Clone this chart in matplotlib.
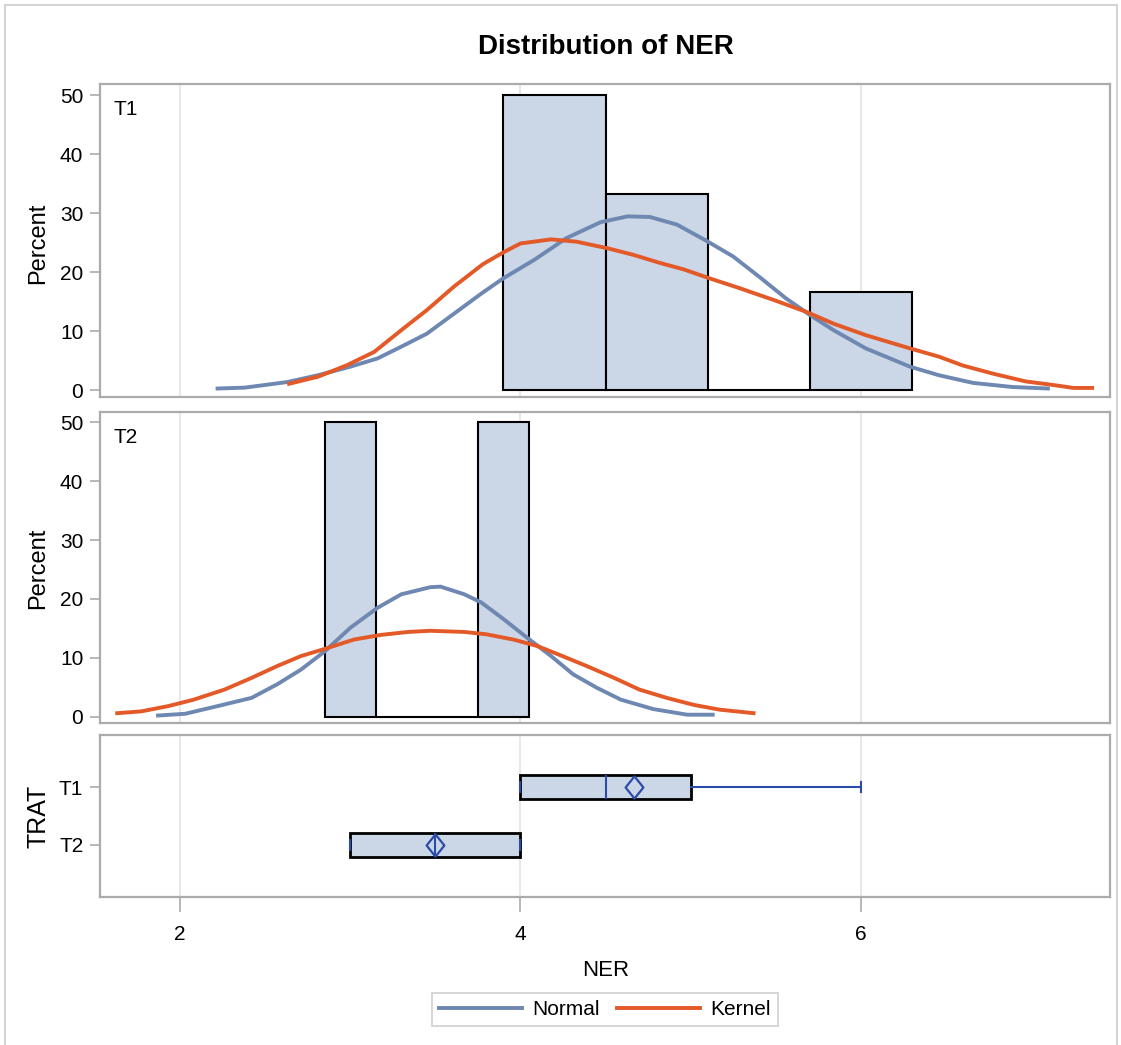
import matplotlib
matplotlib.use('Agg')
import matplotlib.pyplot as plt
from matplotlib.lines import Line2D
from matplotlib.path import Path
from matplotlib.patches import Rectangle

narrow = ['Liberation Sans Narrow', 'Liberation Sans', 'DejaVu Sans']
regular = ['Liberation Sans', 'DejaVu Sans']
plt.rcParams['font.family'] = narrow

# histogram bins (percent)
t1_centers = [4.2, 4.8, 5.4, 6.0]
t1_pct = [50.0, 33.33, 0.0, 16.67]
t1_width = 0.6
t2_centers = [3.0, 3.3, 3.6, 3.9]
t2_pct = [50.0, 0.0, 0.0, 50.0]
t2_width = 0.3

# fitted curves, points
t1_norm_x = [2.22, 2.38, 2.63, 2.81, 3.00, 3.16, 3.30, 3.45, 3.61, 3.77, 3.90, 4.08, 4.27,
             4.47, 4.63, 4.76, 4.92, 5.09, 5.25, 5.41, 5.56, 5.70, 5.84, 6.03, 6.29, 6.46,
             6.66, 6.89, 7.10]
t1_norm_y = [0.3, 0.45, 1.4, 2.55, 4.0, 5.4, 7.4, 9.6, 13.0, 16.4, 19.0, 22.1, 25.8,
             28.5, 29.5, 29.4, 28.1, 25.4, 22.7, 19.1, 15.6, 12.8, 10.2, 7.1, 4.0, 2.55,
             1.25, 0.56, 0.3]
t1_kern_x = [2.64, 2.81, 2.98, 3.14, 3.30, 3.45, 3.61, 3.78, 3.90, 4.00, 4.18, 4.33, 4.51,
             4.66, 4.82, 4.96, 5.11, 5.29, 5.49, 5.68, 5.84, 6.03, 6.29, 6.46, 6.60, 6.78,
             6.97, 7.13, 7.25, 7.36]
t1_kern_y = [1.1, 2.3, 4.25, 6.5, 10.2, 13.6, 17.6, 21.4, 23.4, 24.9, 25.6, 25.2, 24.1,
             23.0, 21.6, 20.5, 19.0, 17.3, 15.3, 13.3, 11.3, 9.35, 7.1, 5.7, 4.2, 2.8,
             1.5, 0.9, 0.4, 0.4]
t2_norm_x = [1.87, 2.03, 2.22, 2.42, 2.57, 2.71, 2.85, 3.00, 3.16, 3.30, 3.47, 3.53, 3.67,
             3.77, 3.90, 4.04, 4.18, 4.31, 4.45, 4.59, 4.78, 4.98, 5.13]
t2_norm_y = [0.2, 0.5, 1.8, 3.2, 5.5, 8.0, 11.1, 15.1, 18.5, 20.8, 22.0, 22.1, 20.8,
             19.4, 16.6, 13.4, 10.3, 7.2, 4.9, 2.9, 1.3, 0.34, 0.34]
t2_kern_x = [1.63, 1.77, 1.93, 2.08, 2.26, 2.42, 2.57, 2.71, 2.87, 3.02, 3.18, 3.34, 3.47,
             3.67, 3.80, 3.96, 4.10, 4.23, 4.39, 4.55, 4.70, 4.86, 5.02, 5.17, 5.37]
t2_kern_y = [0.6, 0.9, 1.8, 2.9, 4.6, 6.6, 8.6, 10.3, 11.7, 13.1, 13.9, 14.4, 14.6,
             14.4, 14.0, 13.1, 12.0, 10.5, 8.6, 6.6, 4.6, 3.2, 2.0, 1.2, 0.6]

# box plot summary
groups = ['T1', 'T2']
q1 = [4.0, 3.0]
med = [4.5, 3.5]
q3 = [5.0, 4.0]
lo = [4.0, 3.0]
hi = [6.0, 4.0]
means = [4.667, 3.5]

bar_fill = '#cbd6e6'
normal_col = '#6e88b2'
kernel_col = '#e35a28'
box_blue = '#2a4ca8'
frame_col = '#ababab'
grid_col = '#e4e4e4'

fig = plt.figure(figsize=(11.21, 10.45), dpi=100)
L, W = 100 / 1121, 1010 / 1121
ax1 = fig.add_axes([L, 1 - 397 / 1045, W, 313 / 1045])
ax2 = fig.add_axes([L, 1 - 723 / 1045, W, 311 / 1045])
ax3 = fig.add_axes([L, 1 - 897 / 1045, W, 162 / 1045])

panels = [
    (ax1, 'T1', t1_centers, t1_pct, t1_width, t1_norm_x, t1_norm_y, t1_kern_x, t1_kern_y, (-1.14, 51.95)),
    (ax2, 'T2', t2_centers, t2_pct, t2_width, t2_norm_x, t2_norm_y, t2_kern_x, t2_kern_y, (-1.07, 51.77)),
]
for ax, lab, cx, pc, w, nx, ny, kx, ky, yl in panels:
    ax.bar(cx, pc, width=w, color=bar_fill, edgecolor='black', linewidth=1.5, zorder=2)
    ax.plot(nx, ny, color=normal_col, lw=2.8, zorder=3, solid_joinstyle='round')
    ax.plot(kx, ky, color=kernel_col, lw=2.8, zorder=3, solid_joinstyle='round')
    ax.set_ylim(*yl)
    ax.set_yticks([0, 10, 20, 30, 40, 50])
    ax.text(0.013, 0.949, lab, transform=ax.transAxes, ha='left', va='top', fontsize=15)
    ax.tick_params(axis='x', length=0, labelbottom=False)

for ax in (ax1, ax2, ax3):
    ax.set_xlim(1.529, 7.465)
    ax.set_xticks([2, 4, 6])
    ax.grid(axis='x', color=grid_col, lw=1.2)
    ax.set_axisbelow(True)
    for s in ax.spines.values():
        s.set_color(frame_col)
        s.set_linewidth(1.6)
    ax.tick_params(axis='y', length=7, width=1.2, color=frame_col, labelsize=15, pad=5)

# box plot panel
diamond = Path([(0, 1), (0.8, 0), (0, -1), (-0.8, 0), (0, 1)],
               [Path.MOVETO, Path.LINETO, Path.LINETO, Path.LINETO, Path.CLOSEPOLY])
stats = []
for i in range(len(groups)):
    stats.append({'med': med[i], 'q1': q1[i], 'q3': q3[i], 'whislo': lo[i],
                  'whishi': hi[i], 'mean': means[i], 'fliers': []})
ax3.bxp(stats, positions=[1, 2], widths=0.41, orientation='horizontal',
        patch_artist=True, showmeans=True, showfliers=False, capwidths=0.16,
        boxprops=dict(facecolor=bar_fill, edgecolor='black', linewidth=2.0),
        medianprops=dict(color=box_blue, lw=1.5),
        whiskerprops=dict(color=box_blue, lw=1.5),
        capprops=dict(color=box_blue, lw=1.5),
        meanprops=dict(marker=diamond, markersize=16, markerfacecolor='none',
                       markeredgecolor=box_blue, markeredgewidth=1.6))
ax3.set_ylim(2.897, 0.103)
ax3.set_yticks([1, 2])
ax3.set_yticklabels(groups)
ax3.set_xticks([2, 4, 6])
ax3.set_xticklabels(['2', '4', '6'])
ax3.tick_params(axis='x', length=11, width=1.2, color=frame_col, labelsize=15, pad=9)

# texts
fig.text(606 / 1121, 1 - 47 / 1045, 'Distribution of NER', ha='center', va='center',
         fontsize=20, fontweight='bold')
fig.text(38 / 1121, 1 - 243 / 1045, 'Percent', rotation=90, ha='center', va='center',
         fontsize=17, family=regular)
fig.text(38 / 1121, 1 - 568 / 1045, 'Percent', rotation=90, ha='center', va='center',
         fontsize=17, family=regular)
fig.text(38 / 1121, 1 - 816 / 1045, 'TRAT', rotation=90, ha='center', va='center',
         fontsize=18, family=regular)
fig.text(606 / 1121, 1 - 971 / 1045, 'NER', ha='center', va='center', fontsize=16)

handles = [Line2D([], [], color=normal_col, lw=2.8), Line2D([], [], color=kernel_col, lw=2.8)]
leg = fig.legend(handles, ['Normal', 'Kernel'], loc='center',
                 bbox_to_anchor=(605 / 1121, 1 - 1009.5 / 1045), ncol=2, fontsize=15,
                 handlelength=4.0, handletextpad=0.5, columnspacing=0.8,
                 fancybox=False, edgecolor='#c8c8c8', borderpad=0.35)
leg.get_frame().set_linewidth(1.3)

# outer frame of the graph
fig.patches.append(Rectangle((5 / 1121, -0.01), 1112 / 1121, 1.01 - 5 / 1045,
                             transform=fig.transFigure, fill=False,
                             edgecolor='#d4d4d4', lw=1.5))

fig.savefig('out.png', dpi=100)
